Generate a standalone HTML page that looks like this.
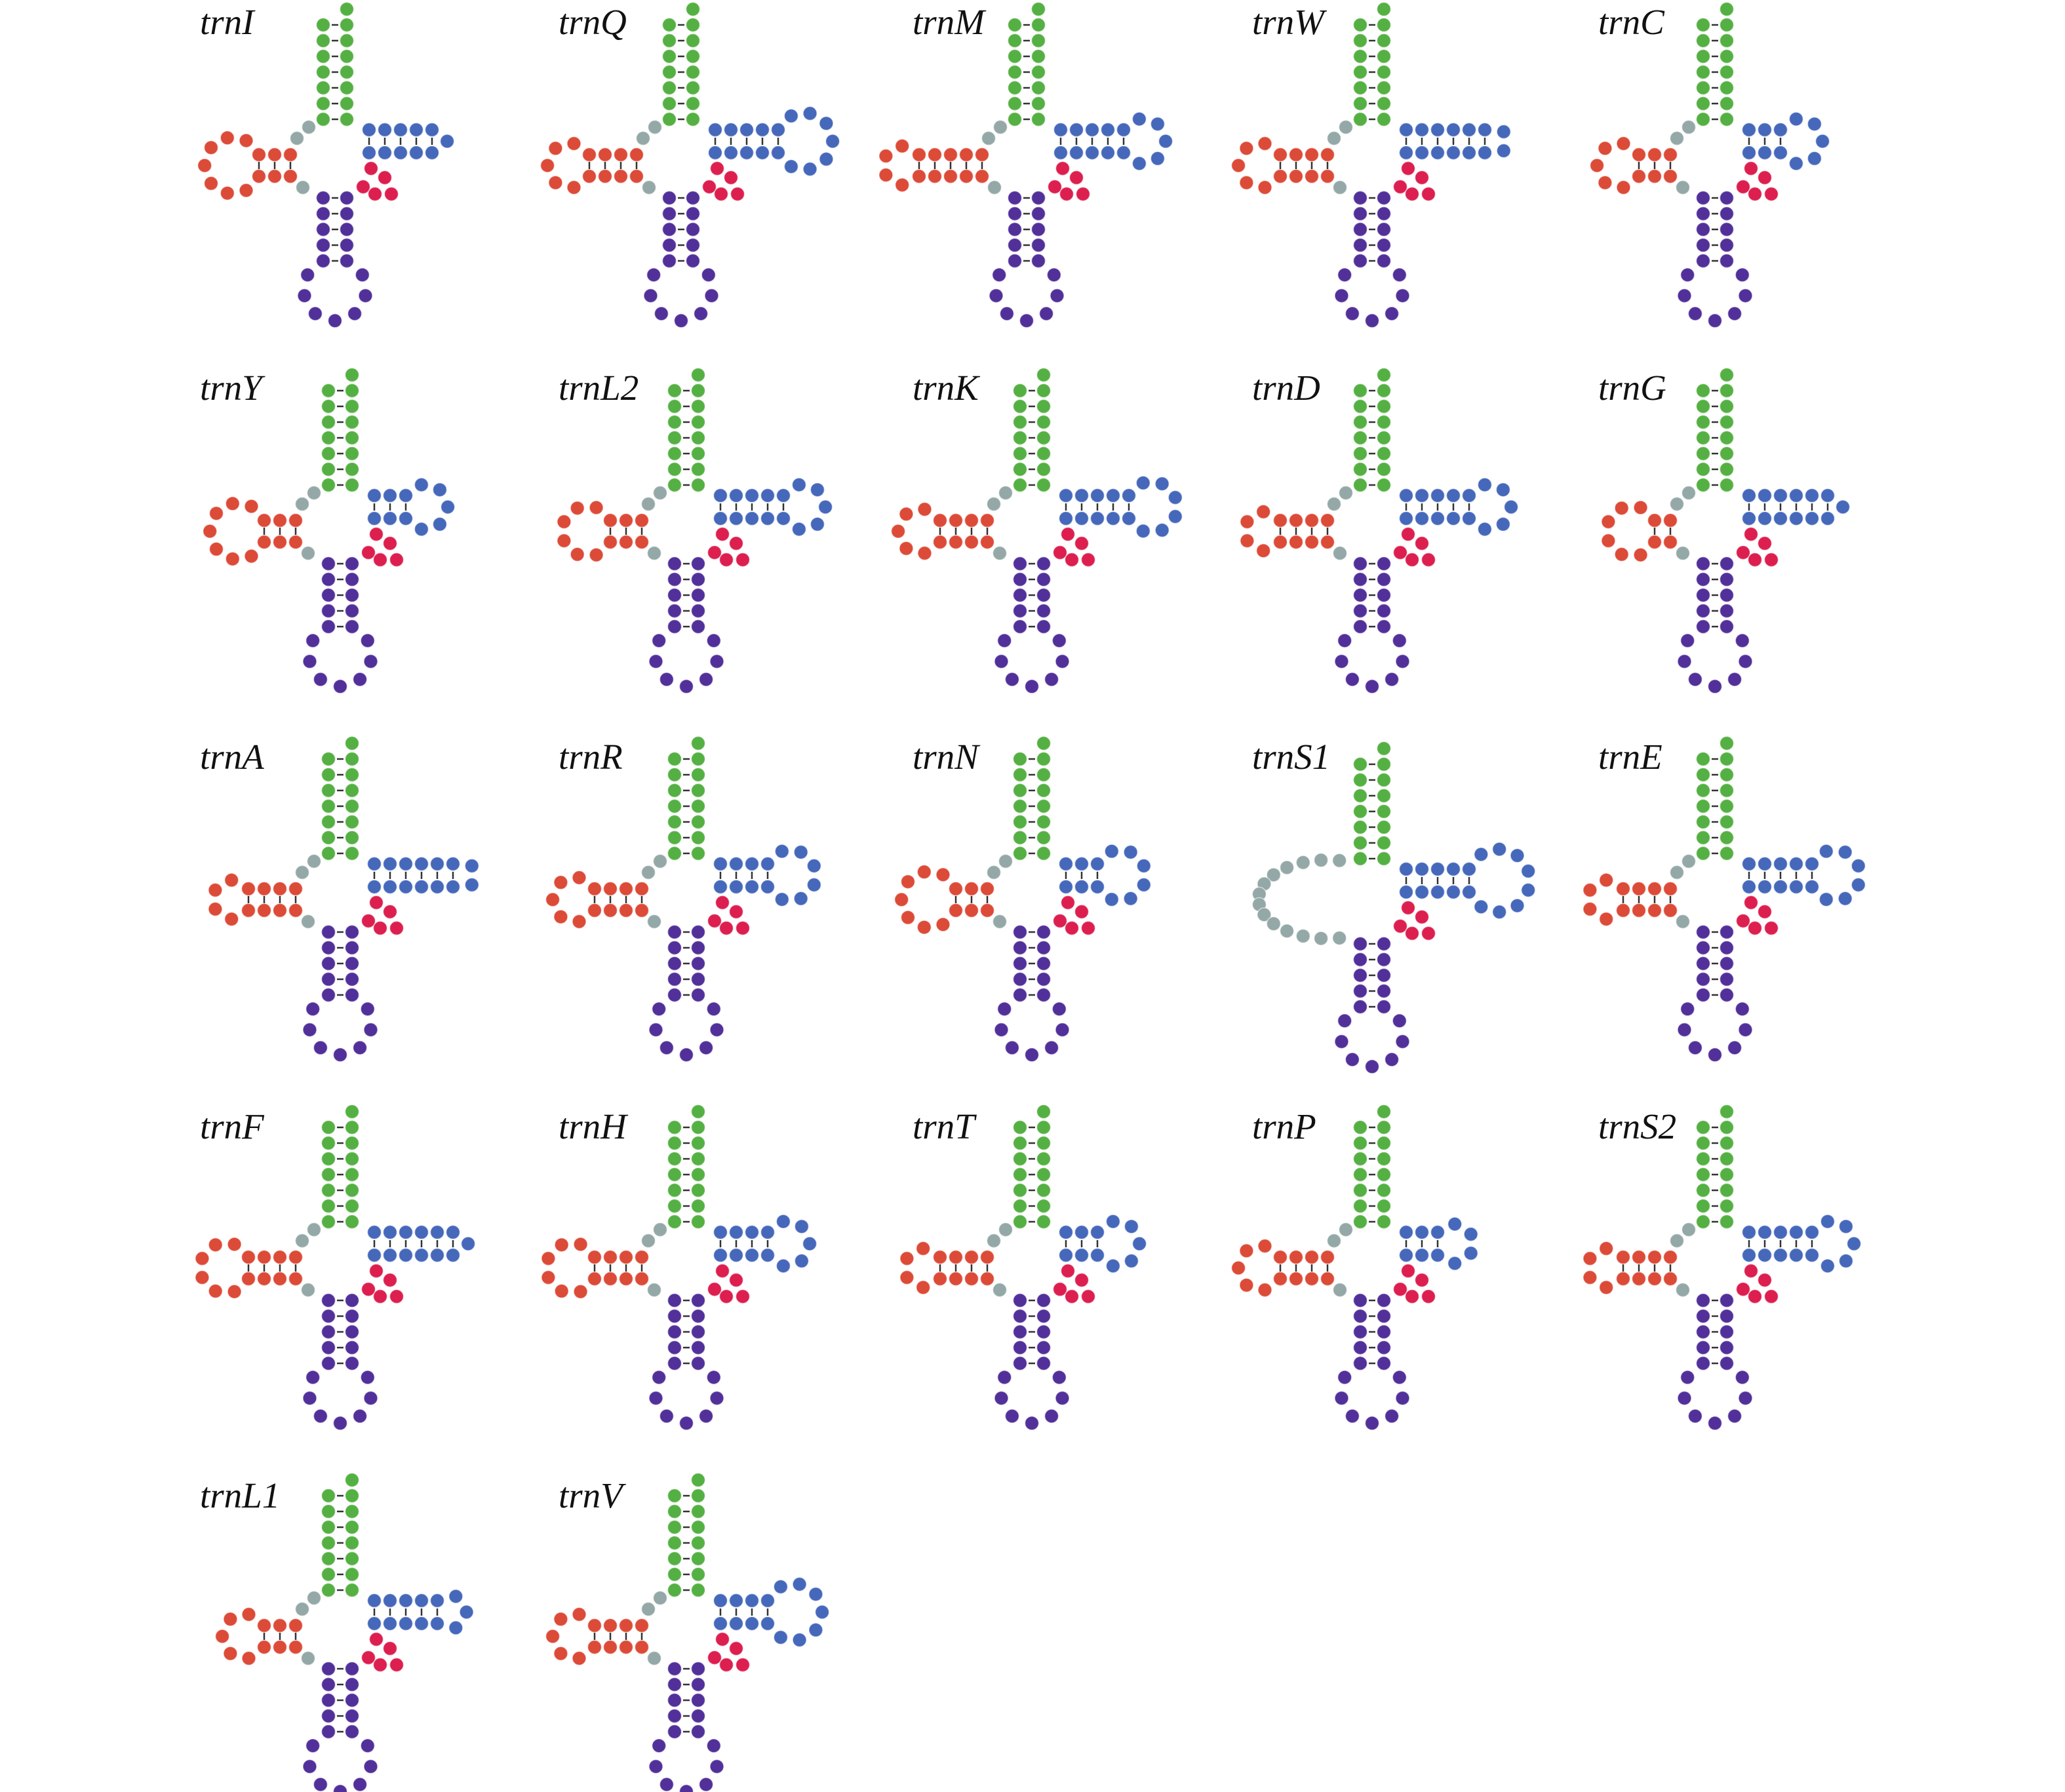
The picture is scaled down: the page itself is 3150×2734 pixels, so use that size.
<!DOCTYPE html>
<html><head><meta charset="utf-8">
<style>
html,body{margin:0;padding:0;background:#fff;}
svg{display:block;}
.lb{font-family:"Liberation Serif",serif;font-style:italic;font-size:55px;fill:#111;}
</style></head>
<body>
<svg id="s" width="3150" height="2734" viewBox="0 0 3150 2734" xmlns="http://www.w3.org/2000/svg">
<rect width="3150" height="2734" fill="#fff"/>
<text class="lb" x="305" y="52">trnI</text>
<text class="lb" x="852" y="52">trnQ</text>
<text class="lb" x="1392" y="52">trnM</text>
<text class="lb" x="1910" y="52">trnW</text>
<text class="lb" x="2438" y="52">trnC</text>
<text class="lb" x="305" y="610">trnY</text>
<text class="lb" x="852" y="610">trnL2</text>
<text class="lb" x="1392" y="610">trnK</text>
<text class="lb" x="1910" y="610">trnD</text>
<text class="lb" x="2438" y="610">trnG</text>
<text class="lb" x="305" y="1173">trnA</text>
<text class="lb" x="852" y="1173">trnR</text>
<text class="lb" x="1392" y="1173">trnN</text>
<text class="lb" x="1910" y="1173">trnS1</text>
<text class="lb" x="2438" y="1173">trnE</text>
<text class="lb" x="305" y="1737">trnF</text>
<text class="lb" x="852" y="1737">trnH</text>
<text class="lb" x="1392" y="1737">trnT</text>
<text class="lb" x="1910" y="1737">trnP</text>
<text class="lb" x="2438" y="1737">trnS2</text>
<text class="lb" x="305" y="2300">trnL1</text>
<text class="lb" x="852" y="2300">trnV</text>
<g id="g"></g>
</svg>
<script>
(function(){
var NS="http://www.w3.org/2000/svg",G=document.getElementById("g");
var C={g:"#55b043",r:"#dc4b38",y:"#94a9a7",b:"#4668bb",p:"#dc1f4f",u:"#52309a"};
var S=24,R=10.5;
function circ(x,y,c){var e=document.createElementNS(NS,"circle");e.setAttribute("cx",x.toFixed(1));e.setAttribute("cy",y.toFixed(1));e.setAttribute("r",R);e.setAttribute("fill",C[c]);e.setAttribute("stroke","rgba(255,255,255,0.55)");e.setAttribute("stroke-width","1.5");G.appendChild(e);}
function ln(x1,y1,x2,y2){var e=document.createElementNS(NS,"line");e.setAttribute("x1",x1);e.setAttribute("y1",y1);e.setAttribute("x2",x2);e.setAttribute("y2",y2);e.setAttribute("stroke","#333");e.setAttribute("stroke-width","2.5");G.appendChild(e);}
function loop(p1,p2,k,dx,dy,c,LS){
  var mx=(p1[0]+p2[0])/2,my=(p1[1]+p2[1])/2,d=Math.hypot(p1[0]-p2[0],p1[1]-p2[1]);
  function f(r){return 2*Math.asin(Math.min(1,d/2/r))+(k+1)*2*Math.asin(Math.min(1,LS/2/r))-2*Math.PI;}
  var lo=Math.max(d,LS)/2+0.01;
  if(f(lo)<0){
    if(k==1){circ(mx+dx*22,my+dy*22,c);return;}
    var px=-dy,py=dx;
    for(var i=0;i<k;i++){var t=(i-(k-1)/2)*S*1.2;circ(mx+dx*22+px*t,my+dy*22+py*t,c);}
    return;
  }
  var hi=500;for(var it=0;it<60;it++){var m=(lo+hi)/2;if(f(m)>0)lo=m;else hi=m;}
  var r=(lo+hi)/2,h=Math.sqrt(Math.max(0,r*r-d*d/4));
  var cx=mx+dx*h,cy=my+dy*h;
  var a1=Math.atan2(p1[1]-cy,p1[0]-cx),a2=Math.atan2(p2[1]-cy,p2[0]-cx),phi=2*Math.asin(LS/2/r);
  var diff=a2-a1;while(diff>Math.PI)diff-=2*Math.PI;while(diff<=-Math.PI)diff+=2*Math.PI;
  var sg=diff>0?-1:1;
  for(var i=1;i<=k;i++){var a=a1+sg*i*phi;circ(cx+r*Math.cos(a),cy+r*Math.sin(a),c);}
}
function trna(gx,top,o){
  var rx=gx+36,i;
  circ(rx,top,"g");
  for(i=1;i<=7;i++){var y=top+S*i;circ(gx,y,"g");circ(rx,y,"g");ln(gx+13,y,gx+23,y);}
  var ya=top+168;
  if(!o.s1){
    circ(gx-22,ya+12,"y");circ(gx-40,ya+29,"y");circ(gx-31,ya+104,"y");
    var x0=gx-50,n=o.d;
    for(i=0;i<n;i++){var x=x0-S*i;circ(x,ya+54,"r");circ(x,ya+87,"r");ln(x,ya+65,x,ya+76);}
    var xl=x0-S*(n-1);
    loop([xl,ya+54],[xl,ya+87],o.dl,-1,0,"r",29);
  } else {
    var pts=14,cx=gx-50,cy=ya+62;
    for(i=0;i<pts;i++){var t=(-100+200*i/(pts-1))*Math.PI/180;
      circ(cx-105*Math.cos(t),cy+60*Math.sin(t),"y");}
  }
  var pt=ya+(o.s1?130:120);
  for(i=0;i<5;i++){var y=pt+S*i;circ(gx,y,"u");circ(rx,y,"u");ln(gx+13,y,gx+23,y);}
  loop([gx,pt+96],[rx,pt+96],7,0,1,"u",32);
  var tx=gx+70,tn=o.t;
  for(i=0;i<tn;i++){var x=tx+S*i;circ(x,ya+16,"b");circ(x,ya+51,"b");ln(x,ya+28,x,ya+39);}
  var xr=tx+S*(tn-1);
  loop([xr,ya+16],[xr,ya+51],o.tl,1,0,"b",29);
  var V=[[73,75],[94,89],[61,103],[79,114],[104,114]];
  for(i=0;i<(o.v||5);i++)circ(gx+V[i][0],ya+V[i][1],"p");
}
var cols=[493,1021,1548,2075,2598];
var tops=[14,572,1134,1696,2258];
var P=[
 [{d:3,dl:7,t:5,tl:1},{d:4,dl:5,t:5,tl:7},{d:5,dl:4,t:5,tl:5},{d:4,dl:5,t:6,tl:2},{d:3,dl:5,t:3,tl:5}],
 [{d:3,dl:7,t:3,tl:5},{d:3,dl:6,t:5,tl:5},{d:4,dl:5,t:5,tl:6},{d:4,dl:4,t:5,tl:5},{d:2,dl:6,t:6,tl:1}],
 [{d:4,dl:4,t:6,tl:2},{d:4,dl:5,t:4,tl:6},{d:3,dl:7,t:3,tl:6},{s1:1,t:5,tl:8},{d:4,dl:4,t:5,tl:6}],
 [{d:4,dl:6,t:6,tl:1},{d:4,dl:6,t:4,tl:5},{d:4,dl:4,t:3,tl:5},{d:4,dl:5,t:3,tl:4},{d:4,dl:4,t:5,tl:5}],
 [{d:3,dl:5,t:5,tl:3},{d:4,dl:5,t:4,tl:7}]
];
for(var r=0;r<P.length;r++)for(var c=0;c<P[r].length;c++){
  var gx=cols[c]+(r>0&&c<3?8:0);
  var t=tops[r]+(P[r][c].s1?8:0);
  trna(gx,t,P[r][c]);
}
})();
</script>
</body></html>
